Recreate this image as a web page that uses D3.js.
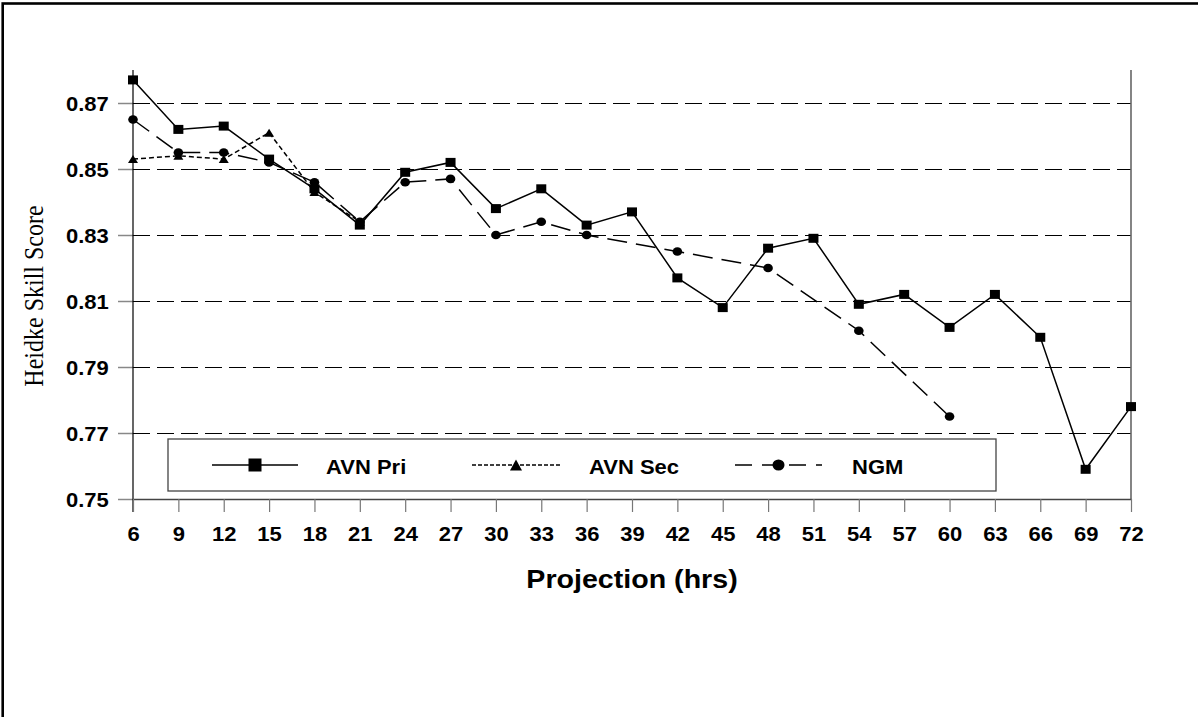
<!DOCTYPE html>
<html>
<head>
<meta charset="utf-8">
<script src="https://cdn.jsdelivr.net/npm/d3@7"></script>
<style>
  html, body { margin: 0; padding: 0; background: #fff; }
  svg { display: block; }
</style>
</head>
<body>
<svg id="chart" width="1198" height="717"></svg>
<script>
// ---- data ----
const hours = [6, 9, 12, 15, 18, 21, 24, 27, 30, 33, 36, 39, 42, 45, 48, 51, 54, 57, 60, 63, 66, 69, 72];
const avnPri = [0.877, 0.862, 0.863, 0.853, 0.844, 0.833, 0.849, 0.852, 0.838, 0.844, 0.833, 0.837, 0.817, 0.808, 0.826, 0.829, 0.809, 0.812, 0.802, 0.812, 0.799, 0.759, 0.778];
const avnSecHours = [6, 9, 12, 15, 18, 21];
const avnSec = [0.853, 0.854, 0.853, 0.861, 0.843, 0.834];
const ngmHours = [6, 9, 12, 15, 18, 21, 24, 27, 30, 33, 36, 42, 48, 54, 60];
const ngm = [0.865, 0.855, 0.855, 0.852, 0.846, 0.834, 0.846, 0.847, 0.830, 0.834, 0.830, 0.825, 0.820, 0.801, 0.775];
const yTicks = [0.75, 0.77, 0.79, 0.81, 0.83, 0.85, 0.87];
const seriesNames = ["AVN Pri", "AVN Sec", "NGM"];
const xTitle = "Projection (hrs)";
const yTitle = "Heidke Skill Score";

// ---- layout ----
const SX = 1.1; // horizontal stretch of text
const SANS = "Liberation Sans, Arial, sans-serif";
const SERIF = "Liberation Serif, Times New Roman, serif";
const svg = d3.select("#chart");
const x = d3.scaleLinear().domain([6, 72]).range([133, 1131]);
const y = d3.scaleLinear().domain([0.75, 0.88]).range([499, 70]);

// frame
svg.append("rect").attr("x", 2.7).attr("y", 3.5).attr("width", 1400).attr("height", 900)
  .attr("fill", "none").attr("stroke", "#000").attr("stroke-width", 2.6);

// grid
svg.append("g").selectAll("line").data(yTicks.filter(v => v > 0.75)).join("line")
  .attr("x1", x(6)).attr("x2", x(72))
  .attr("y1", d => Math.round(y(d)) + 0.5).attr("y2", d => Math.round(y(d)) + 0.5)
  .attr("stroke", "#000").attr("stroke-width", 1.2)
  .attr("stroke-dasharray", "17,7");

// y axis
const yAxis = svg.append("g").attr("transform", `translate(${x(6)},0)`)
  .call(d3.axisLeft(y).tickValues(yTicks).tickSize(15).tickSizeOuter(0).tickFormat(d3.format(".2f")));
yAxis.select(".domain").remove();
yAxis.selectAll(".tick line").attr("stroke", "#888").attr("stroke-width", 1.5);
yAxis.selectAll(".tick text")
  .attr("x", -22).attr("dy", "0.36em")
  .attr("transform", `scale(${SX},1)`)
  .attr("font-size", 20).attr("font-weight", "bold").attr("fill", "#000")
  .attr("font-family", SANS);
svg.append("line").attr("x1", x(6)).attr("x2", x(6)).attr("y1", y(0.88)).attr("y2", 512)
  .attr("stroke", "#000").attr("stroke-width", 1.2);

// right axis line
svg.append("line").attr("x1", x(72)).attr("x2", x(72)).attr("y1", y(0.88)).attr("y2", y(0.75))
  .attr("stroke", "#666").attr("stroke-width", 1.6);

// x axis
const xAxis = svg.append("g").attr("transform", `translate(0,${y(0.75)})`)
  .call(d3.axisBottom(x).tickValues(hours).tickSize(13).tickSizeOuter(0).tickFormat(d3.format("d")));
xAxis.select(".domain").attr("stroke", "#444").attr("stroke-width", 1.4);
xAxis.selectAll(".tick line").attr("stroke", "#777").attr("stroke-width", 1.2);
xAxis.selectAll(".tick text")
  .attr("y", 42).attr("dy", 0)
  .attr("transform", `scale(${SX},1)`)
  .attr("font-size", 20).attr("font-weight", "bold").attr("fill", "#000")
  .attr("font-family", SANS);

// titles
svg.append("text").attr("transform", `translate(${(x(6) + x(72)) / 2},588) scale(${SX},1)`)
  .attr("text-anchor", "middle").attr("font-size", 26).attr("font-weight", "bold")
  .attr("font-family", SANS).text(xTitle);
svg.append("text").attr("transform", `translate(43,296) scale(1.15,1) rotate(-90)`)
  .attr("text-anchor", "middle").attr("font-size", 24)
  .attr("font-family", SERIF).text(yTitle);

// lines
const line = d3.line().x(d => x(d[0])).y(d => y(d[1]));
const priData = hours.map((h, i) => [h, avnPri[i]]);
const secData = avnSecHours.map((h, i) => [h, avnSec[i]]);
const ngmData = ngmHours.map((h, i) => [h, ngm[i]]);

const styles = {
  pri: { dash: null, w: 1.5 },
  sec: { dash: "5,3", w: 1.5 },
  ngm: { dash: "20,9", w: 1.5 }
};

svg.append("path").datum(secData).attr("d", line).attr("fill", "none")
  .attr("stroke", "#000").attr("stroke-width", styles.sec.w).attr("stroke-dasharray", styles.sec.dash);
svg.append("path").datum(ngmData).attr("d", line).attr("fill", "none")
  .attr("stroke", "#000").attr("stroke-width", styles.ngm.w).attr("stroke-dasharray", styles.ngm.dash);
svg.append("path").datum(priData).attr("d", line).attr("fill", "none")
  .attr("stroke", "#000").attr("stroke-width", styles.pri.w);

function tri(cx, cy, w, h) {
  return `M${cx},${cy - h / 2}L${cx + w / 2},${cy + h / 2}L${cx - w / 2},${cy + h / 2}Z`;
}

// markers
svg.append("g").selectAll("path").data(secData).join("path")
  .attr("d", d => tri(x(d[0]), y(d[1]), 10, 8)).attr("fill", "#000");
svg.append("g").selectAll("ellipse").data(ngmData).join("ellipse")
  .attr("cx", d => x(d[0])).attr("cy", d => y(d[1])).attr("rx", 4.8).attr("ry", 4.3).attr("fill", "#000");
svg.append("g").selectAll("rect").data(priData).join("rect")
  .attr("x", d => x(d[0]) - 5).attr("y", d => y(d[1]) - 4.5).attr("width", 10).attr("height", 9).attr("fill", "#000");

// legend
const lg = svg.append("g");
lg.append("rect").attr("x", 168).attr("y", 439).attr("width", 828).attr("height", 52)
  .attr("fill", "#fff").attr("stroke", "#444").attr("stroke-width", 1.3);
const ly = 465;
const items = [
  { name: seriesNames[0], x1: 212, x2: 298, tx: 326, key: "pri" },
  { name: seriesNames[1], x1: 472, x2: 560, tx: 589, key: "sec" },
  { name: seriesNames[2], x1: 735, x2: 822, tx: 852, key: "ngm" }
];
items.forEach(it => {
  const s = styles[it.key];
  const l = lg.append("line").attr("x1", it.x1).attr("x2", it.x2).attr("y1", ly).attr("y2", ly)
    .attr("stroke", "#000").attr("stroke-width", s.w);
  if (s.dash) l.attr("stroke-dasharray", it.key === "ngm" ? "17,10" : "4,2");
  const cx = (it.x1 + it.x2) / 2;
  if (it.key === "pri") lg.append("rect").attr("x", cx - 6.5).attr("y", ly - 6.5).attr("width", 13).attr("height", 13).attr("fill", "#000");
  if (it.key === "sec") lg.append("path").attr("d", tri(cx, ly, 12, 11)).attr("fill", "#000");
  if (it.key === "ngm") lg.append("ellipse").attr("cx", cx).attr("cy", ly).attr("rx", 6).attr("ry", 5.5).attr("fill", "#000");
  lg.append("text").attr("transform", `translate(${it.tx},474) scale(${SX},1)`)
    .attr("font-size", 20).attr("font-weight", "bold").attr("font-family", SANS).text(it.name);
});
</script>
</body>
</html>
